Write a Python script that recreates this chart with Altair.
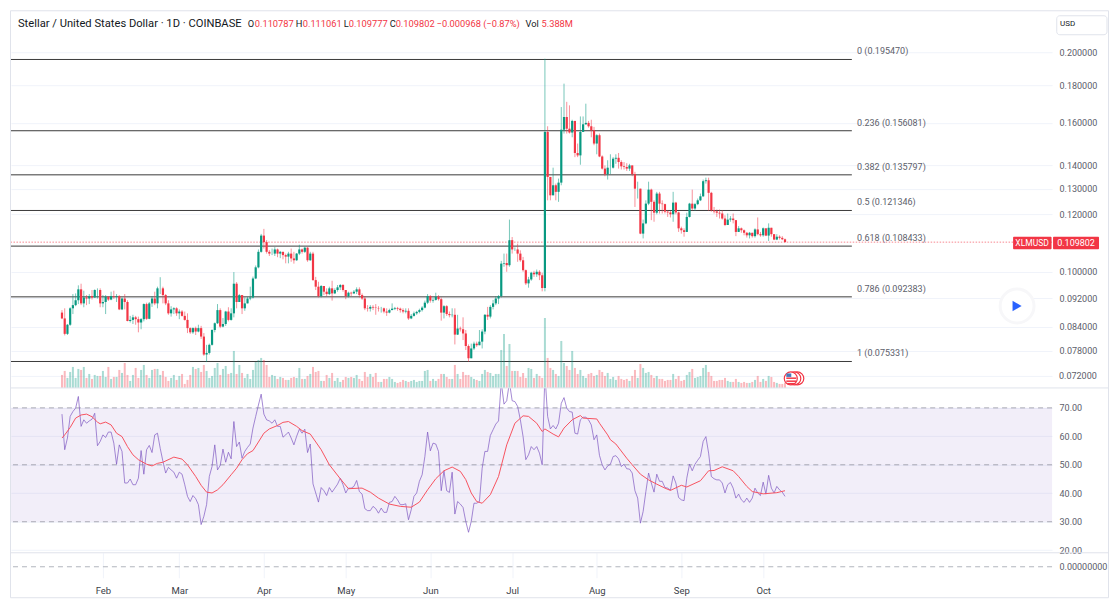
import altair as alt
import pandas as pd

FONT = "Roboto"
UP, DOWN = "#089981", "#F23645"
TXT = "#5d606b"

first_open = 0.0879
close = [
 .0863,.0822,.0846,.0891,.0900,.0914,.0946,.0905,.0922,.0919,
 .0926,.0922,.0944,.0944,.0905,.0909,.0924,.0916,.0926,.0924,
 .0926,.0888,.0919,.0909,.0856,.0859,.0866,.0861,.0852,.0861,
 .0903,.0862,.0905,.0919,.0905,.0949,.0949,.0929,.0905,.0877,
 .0888,.0891,.0877,.0882,.0870,.0859,.0837,.0826,.0837,.0828,
 .0837,.0815,.0770,.0774,.0794,.0832,.0850,.0886,.0841,.0848,
 .0882,.0859,.0877,
 .0963,.0909,.0929,.0891,.0905,.0919,.0922,.0979,.1014,.1065,
 .1121,.1098,.1065,.1059,.1059,.1073,.1059,.1065,.1054,.1049,.1059,
 .1043,.1037,.1059,.1073,.1065,.1079,.1037,.1059,.0974,.0954,
 .0926,.0956,.0939,.0932,.0949,.0934,.0944,.0952,.0959,.0944,
 .0926,.0936,.0934,.0939,.0946,.0929,.0919,.0891,.0890,.0895,
 .0893,.0892,.0891,.0891,.0882,.0879,.0886,.0890,.0892,.0890,
 .0886,.0882,.0884,.0863,.0870,.0877,.0881,.0886,.0893,.0907,
 .0926,.0913,.0915,.0924,.0917,.0879,.0897,.0875,.0872,.0873,
 .0820,.0836,.0834,.0823,.0791,.0761,.0785,.0797,.0793,.0802,
 .0828,.0873,.0868,.0895,.0905,.0919,.0926,.1026,.1028,.1021,
 .1105,.1073,.1073,.1059,.1037,.1005,.0964,.0976,.0997,.0992,
 .1000,.0989,.0950,
 .1555,.1349,.1273,.1314,.1287,.1325,.1566,.1630,.1571,.1552,.1610,
 .1455,.1444,.1555,.1593,.1600,.1583,.1563,.1499,.1539,.1439,
 .1385,.1361,.1389,.1389,.1429,.1433,.1414,.1395,.1392,.1385,
 .1399,.1361,.1300,.1300,.1128,.1165,.1240,.1296,.1247,.1205,
 .1280,.1240,.1238,.1209,.1206,.1199,.1244,.1206,.1147,.1140,
 .1134,.1189,.1240,.1221,.1238,.1253,.1269,.1331,.1335,.1283,
 .1214,.1210,.1205,.1202,.1183,.1159,.1179,.1183,.1177,.1134,
 .1147,.1140,.1131,.1122,.1131,.1119,.1143,.1126,.1122,.1147,
 .1121,.1149,.1126,.1107,.1117,.1113,.1108,.109802]
high = [
 .0886,.0891,.0848,.0894,.0932,.0934,.0958,.0963,.0942,.0929,
 .0932,.0944,.0946,.0949,.0949,.0929,.0929,.0926,.0939,.0942,
 .0932,.0929,.0922,.0932,.0914,.0870,.0873,.0870,.0868,.0864,
 .0905,.0907,.0909,.0926,.0939,.0954,.0983,.0954,.0932,.0914,
 .0897,.0894,.0894,.0888,.0886,.0882,.0877,.0839,.0839,.0841,
 .0846,.0843,.0824,.0794,.0797,.0834,.0852,.0903,.0891,.0864,
 .0884,.0894,.0891,
 .0999,.0968,.0932,.0929,.0922,.0924,.0954,.0985,.1020,.1073,
 .1127,.1145,.1105,.1071,.1076,.1081,.1076,.1068,.1065,.1059,.1065,
 .1076,.1065,.1061,.1089,.1076,.1082,.1081,.1065,.1065,.0984,
 .0969,.0959,.0956,.0949,.0954,.0972,.0949,.0959,.0962,.0962,
 .0944,.0939,.0939,.0944,.0952,.0952,.0934,.0926,.0900,.0900,
 .0900,.0903,.0897,.0895,.0893,.0891,.0890,.0905,.0895,.0895,
 .0893,.0891,.0891,.0891,.0875,.0882,.0884,.0890,.0897,.0913,
 .0932,.0929,.0922,.0936,.0929,.0922,.0900,.0900,.0882,.0891,
 .0891,.0873,.0841,.0866,.0832,.0795,.0797,.0802,.0802,.0832,
 .0834,.0875,.0895,.0900,.0915,.0926,.0929,.1035,.1059,.1059,
 .1179,.1116,.1080,.1093,.1070,.1048,.1007,.0984,.1000,.1003,
 .1007,.1005,.0997,
 .1959,.1583,.1349,.1389,.1321,.1342,.1682,.1811,.1710,.1691,.1616,
 .1563,.1499,.1633,.1633,.1700,.1610,.1616,.1580,.1544,.1547,
 .1444,.1399,.1422,.1449,.1436,.1449,.1455,.1422,.1414,.1409,
 .1406,.1385,.1371,.1329,.1300,.1179,.1253,.1329,.1300,.1253,
 .1287,.1287,.1253,.1240,.1214,.1212,.1287,.1247,.1209,.1153,
 .1147,.1205,.1243,.1296,.1243,.1260,.1280,.1338,.1346,.1346,
 .1287,.1227,.1217,.1217,.1214,.1195,.1202,.1192,.1202,.1171,
 .1155,.1150,.1143,.1134,.1134,.1131,.1147,.1187,.1134,.1150,
 .1147,.1165,.1149,.1126,.1126,.1122,.1119,.111061]
low = [
 .0861,.0818,.0819,.0843,.0875,.0897,.0903,.0900,.0894,.0900,
 .0903,.0916,.0922,.0919,.0894,.0894,.0875,.0912,.0914,.0918,
 .0909,.0886,.0886,.0888,.0855,.0852,.0848,.0846,.0826,.0834,
 .0855,.0859,.0861,.0895,.0900,.0891,.0932,.0905,.0900,.0873,
 .0868,.0875,.0870,.0861,.0868,.0857,.0824,.0822,.0822,.0819,
 .0826,.0809,.0767,.0752,.0770,.0792,.0826,.0848,.0837,.0839,
 .0843,.0855,.0857,
 .0866,.0891,.0909,.0875,.0884,.0905,.0914,.0919,.0977,.1011,
 .1062,.1076,.1059,.1051,.1054,.1051,.1047,.1044,.1040,.1027,.1027,
 .1032,.1026,.1035,.1054,.1059,.1061,.1032,.1035,.0972,.0944,
 .0922,.0922,.0929,.0926,.0929,.0913,.0932,.0939,.0944,.0939,
 .0917,.0922,.0926,.0932,.0932,.0922,.0915,.0886,.0882,.0882,
 .0886,.0873,.0882,.0879,.0877,.0870,.0877,.0886,.0886,.0884,
 .0879,.0877,.0877,.0859,.0861,.0868,.0873,.0877,.0882,.0891,
 .0903,.0907,.0907,.0913,.0913,.0857,.0863,.0870,.0866,.0866,
 .0795,.0819,.0828,.0806,.0781,.0753,.0761,.0781,.0789,.0793,
 .0785,.0821,.0859,.0863,.0888,.0900,.0903,.0922,.1016,.1000,
 .1016,.1059,.1068,.1032,.1032,.1000,.0959,.0951,.0972,.0984,
 .0984,.0974,.0940,
 .0940,.1253,.1253,.1280,.1253,.1247,.1314,.1547,.1547,.1547,.1529,
 .1436,.1436,.1402,.1555,.1590,.1576,.1529,.1491,.1449,.1436,
 .1381,.1352,.1338,.1361,.1385,.1406,.1385,.1381,.1381,.1375,
 .1375,.1352,.1227,.1260,.1126,.1111,.1162,.1234,.1177,.1171,
 .1199,.1202,.1202,.1202,.1189,.1187,.1171,.1199,.1134,.1128,
 .1117,.1134,.1187,.1214,.1212,.1234,.1250,.1266,.1321,.1212,
 .1209,.1202,.1189,.1183,.1179,.1155,.1159,.1171,.1165,.1119,
 .1134,.1131,.1122,.1114,.1111,.1114,.1114,.1122,.1117,.1117,
 .1119,.1102,.1117,.1105,.1105,.1107,.1105,.109777]
volume = [
 13,17,10,16,21,10,19,18,21,10,14,9,13,12,12,17,11,21,9,11,11,18,15,25,13,7,13,20,10,18,
 23,13,10,18,19,19,13,17,11,7,10,13,8,12,14,4,8,13,21,19,
 20,16,23,17,10,12,20,25,13,19,22,14,15,37,14,23,15,10,14,9,18,26,28,30,28,23,11,13,12,9,11,10,8,8,
 10,11,10,20,9,9,12,14,21,16,17,7,7,13,10,15,7,10,6,8,11,10,11,10,13,9,7,16,11,14,11,15,6,6,9,9,11,9,6,5,6,8,7,6,7,8,6,7,7,
 17,18,7,9,7,9,14,14,11,9,9,23,14,9,16,13,13,11,9,8,7,14,18,16,15,12,14,14,38,54,22,44,17,17,17,11,15,10,20,19,10,14,12,10,
 70,30,20,18,14,12,47,25,22,18,37,20,14,18,12,10,14,15,12,13,18,16,12,15,9,11,8,12,9,8,9,7,12,18,10,24,20,15,16,13,10,12,9,9,7,8,8,14,9,12,7,8,
 13,16,19,10,11,12,20,23,16,12,7,7,8,8,10,7,6,6,9,6,5,6,5,5,6,8,12,6,9,7,12,11,6,5,4,4,5.388]
rsi = [
 67.8,55.3,59.4,67,68.7,69.9,74,63.5,65.8,64.6,65.4,66,68.1,56.7,58.2,60.5,59.6,61.5,61.5,57.6,
 50.2,57,54.7,43.6,43.6,45,43,43,45.3,55,46.7,55.3,56.8,54.3,60.5,61.1,55.8,51.2,47.1,49.1,
 48.2,47.4,45.3,47.4,46.7,43,38.9,37.1,39.2,38.1,36,29,31.9,36,45.9,49.4,57,48.2,49.8,55.5,
 50.9,54.4,52.1,65.2,56.4,58,52.3,54.7,56.1,57.3,62.9,67,71,74.8,67.8,65.8,65.4,64.6,65.8,63.5,
 63.5,59.7,60.5,61.5,59.4,57,60,
 62.5,61.1,62.5,54.3,57.3,43.3,40.1,36.9,42,40.9,39.2,42,40.4,41.8,43.2,45.3,43,40.1,41.8,41.8,
 42.4,44.5,40.6,39.7,34.6,33.9,33.9,35.4,34.6,33,34.8,33.3,33.3,36.8,37.1,38.9,37.7,36,36,36.3,
 30.7,34.2,38.9,40.1,44.2,46.5,52.9,61.5,54.9,57.6,57.3,54.7,40.9,47.9,40.9,40.3,47.4,32.7,37.1,36.2,
 35,30.1,26.3,30.1,36.5,36.5,37.1,48.8,54.7,54.7,60.3,62.3,64.3,65.4,79,71.3,72.5,79,72.5,72.2,
 70.5,65.8,59.9,51.8,53.5,56.4,55.3,56.4,54.1,50,82,67,62.6,63.8,62.6,64.6,
 71.6,73.6,69.9,68.7,68.5,61.1,60.8,65.8,66.7,66.7,65.8,64,58.8,60.5,53.3,50,48.2,49.6,50.2,52.9,
 53.2,52.1,49.4,50.2,48.6,48.5,47.1,40.9,38.3,29.5,33.6,40.6,47.1,43.6,40.4,46.7,44.2,44.2,42,41.8,
 41.1,46.1,43.6,38.5,37.7,37.4,45.3,50.2,47.9,50.2,51.6,52.9,58.2,59.9,54.1,45.9,45.1,44.7,44.7,43.6,
 40.1,43,43.8,41.8,38.3,39.7,37.7,36.8,38.3,36.8,38.3,41.8,40.1,39.2,43.9,39.7,46.3,41.8,40.1,42.4,
 41.2,40.4,38.9]
ma_bar = [0,1,3,5,7,9,11,13,14,16,18,20,22,24,26,28,31,33,35,37,41,44,46,49,51,53,55,57,59,62,64,66,68,70,72,74,76,79,81,83,86,88,91,
 95,98,102,105,109,110,113,116,120,124,128,131,134,137,140,143,146,148,150,152,154,157,160,163,166,169,171,174,176,177,180,182,
 184,187,190,191,196,197,200,201,203,207,209,212,215,218,221,223,227,229,234,237,239,242,246,248,251,253,257,262,265]
ma_val = [59.4,60.5,63.1,66.4,67.5,67.8,66.9,65,64.4,65,64,61.1,59.9,56.4,53.5,51.8,50.2,49.6,50.5,50.9,52.7,52,50,45.9,42.8,40.4,40.1,41.2,43,46.5,48.8,51.8,53.9,55,58,61.1,62.6,63.8,64.9,65.2,63.5,62,60.8,
 55.3,50,45.1,41.6,41.8,41.8,40.4,38.3,36.2,35.4,35.1,36.9,41.2,45.1,47.9,49.2,47.7,44.8,40.1,37.1,36.5,39.5,45.9,57,64.6,67.2,67,64.6,61.7,62.6,60.8,59.8,
 62.9,65.8,67.3,66.4,66.1,64.6,60.5,58.8,57.3,52.3,50,46.7,44.7,43.2,41.8,41,42.8,42.2,44.4,47.9,48,49.3,47.9,45.9,42.4,40.6,39.8,40.2,40.9]
fib_level = ["0", "0.236", "0.382", "0.5", "0.618", "0.786", "1"]
fib_price = [0.195470, 0.156081, 0.135797, 0.121346, 0.108433, 0.092383, 0.075331]
price_ticks = [0.072, 0.078, 0.084, 0.092, 0.100, 0.120, 0.130, 0.140, 0.160, 0.180, 0.200]
low_tick = [0.072]
rsi_ticks = [20, 30, 40, 50, 60, 70]
month_ticks = ["2023-%02d-01T00:00:00" % m for m in range(2, 11)]
last_close = 0.109802
X_START, X_END = "2022-12-29T07:30:00", "2024-01-14T21:00:00"
FIB_END, FIB_LABEL = "2023-11-02T12:00:00", "2023-11-04T10:00:00"
PW = 1042
FR = 1098.5
FB = 587

dates = pd.date_range("2023-01-17", periods=len(close)).strftime("%Y-%m-%dT00:00:00").tolist()
opens = [first_open] + close[:-1]
df = pd.DataFrame({"date": dates, "open": opens, "close": close, "volume": volume, "rsi": rsi})
df["high"] = [max(a, b, c) for a, b, c in zip(high, opens, close)]
df["low"] = [min(a, b, c) for a, b, c in zip(low, opens, close)]
df["top"] = df[["open", "close"]].max(axis=1)
df["bot"] = df[["open", "close"]].min(axis=1)
df["dir"] = ["up" if c >= o else "down" for o, c in zip(opens, close)]
ma_df = pd.DataFrame({"date": [dates[i] for i in ma_bar], "ma": ma_val})
fib_df = pd.DataFrame({"level": fib_level, "price": fib_price})
fib_df["label"] = [f"{l} ({p:.6f})" for l, p in zip(fib_level, fib_price)]
fib_df["x0"], fib_df["x1"], fib_df["xl"] = X_START, FIB_END, FIB_LABEL
months = pd.DataFrame({"date": month_ticks})

xscale = alt.Scale(domain=[X_START, X_END], padding=0)
yprice = alt.Scale(type="log", domain=[0.0693, 0.2276], nice=False)
yvol = alt.Scale(domain=[0, 377], nice=False)
yrsi = alt.Scale(domain=[19.1, 77], nice=False)
yzero = alt.Scale(domain=[-0.88, 1.12], nice=False)
dircol = alt.Color("dir:N", scale=alt.Scale(domain=["up", "down"], range=[UP, DOWN]), legend=None)
one = alt.Data(values=[{"a": 1}])


def xax(field="date", labels=False):
    return alt.X(f"{field}:T", scale=xscale, title=None,
                 axis=alt.Axis(values=month_ticks, labels=labels, grid=True, format="%b", labelPadding=8,
                               labelFontSize=9.5, labelColor="#3b3e48"))


def xn(field="date"):
    return alt.X(f"{field}:T", scale=xscale, title=None, axis=None)


def note(text, x, y, color=TXT, size=9, align="left", font=FONT):
    return alt.Chart(one).mark_text(text=text, color=color, fontSize=size, align=align, baseline="middle",
                                    font=font).encode(x=alt.value(x), y=alt.value(y))


def box(x, x2, y, y2, **kw):
    return alt.Chart(one).mark_rect(**kw).encode(x=alt.value(x), x2=alt.value(x2), y=alt.value(y), y2=alt.value(y2))


def dot(x, y, **kw):
    return alt.Chart(one).mark_point(filled=False, **kw).encode(x=alt.value(x), y=alt.value(y))


base = alt.Chart(df)
grid_layer = alt.Chart(months).mark_rule(opacity=0).encode(
    x=xax(),
    y=alt.value(0))
price_axis = alt.Chart(pd.DataFrame({"price": price_ticks})).mark_rule(opacity=0).encode(
    y=alt.Y("price:Q", scale=yprice, title=None,
            axis=alt.Axis(values=price_ticks, grid=True, orient="right", labelPadding=7,
                          labelExpr="datum.value < 0.075 ? '' : format(datum.value, '.6f')")))
low_label = alt.Chart(pd.DataFrame({"price": low_tick, "label": [f"{v:.6f}" for v in low_tick]})).mark_text(
    align="left", baseline="middle", fontSize=9, color=TXT, font=FONT).encode(
    x=alt.value(PW + 7), y=alt.Y("price:Q", scale=yprice, axis=None), text="label:N")
fib_lines = alt.Chart(fib_df).mark_rule(color="#3a3a3a", strokeWidth=1).encode(
    x=xn("x0"), x2="x1:T", y=alt.Y("price:Q", scale=yprice, axis=None))
fib_text = alt.Chart(fib_df).mark_text(align="left", baseline="middle", dy=-8, fontSize=9, color=TXT, font=FONT).encode(
    x=xn("xl"), y=alt.Y("price:Q", scale=yprice, axis=None), text="label:N")
last_line = alt.Chart(pd.DataFrame({"price": [last_close]})).mark_rule(
    color=DOWN, strokeDash=[1.5, 1.5], opacity=0.6, strokeWidth=1).encode(
    y=alt.Y("price:Q", scale=yprice, axis=None))
vol_bars = base.mark_bar(size=2, opacity=0.35).encode(
    x=xn(), y=alt.Y("volume:Q", scale=yvol, axis=None), color=dircol)
wicks = base.mark_rule(strokeWidth=1, opacity=0.55).encode(
    x=xn(), y=alt.Y("low:Q", scale=yprice, axis=None), y2="high:Q", color=dircol)
bodies = base.mark_bar(size=2.2).encode(
    x=xn(), y=alt.Y("bot:Q", scale=yprice, axis=None), y2="top:Q", color=dircol)

header = [
    note("Stellar / United States Dollar · 1D · COINBASE", 7, 13, "#131722", 11.2),
    note("O", 237, 13, "#131722", 9.3), note("0.110787", 244, 13, DOWN, 9.3),
    note("H", 285, 13, "#131722", 9.3), note("0.111061", 292, 13, DOWN, 9.3),
    note("L", 333, 13, "#131722", 9.3), note("0.109777", 338, 13, DOWN, 9.3),
    note("C", 379, 13, "#131722", 9.3), note("0.109802", 385, 13, DOWN, 9.3),
    note("−0.000968 (−0.87%)", 426, 13, DOWN, 9.3),
    note("Vol", 515, 13, "#131722", 9.3), note("5.388M", 531, 13, DOWN, 9.3),
]
badge = [
    box(1003, 1041.5, 225.7, 238.3, color=DOWN, cornerRadius=1),
    box(1043, 1089, 225.7, 238.3, color=DOWN, cornerRadius=1),
    note("XLMUSD", 1022, 232, "white", 8.5, "center"),
    note("0.109802", 1066, 232, "white", 9, "center"),
]
usd = [box(1046.7, 1097, 4.5, 23.5, fill="white", stroke="#e0e3eb", cornerRadius=3),
       note("USD", 1050, 13, "#131722", 8)]
play = [
    dot(1007, 295, size=1150, shape="circle", stroke="#f7f7f9", strokeWidth=3, fill="white", fillOpacity=1),
    alt.Chart(one).mark_point(filled=True, shape="triangle-right", size=110, color="#2962ff", opacity=1).encode(
        x=alt.value(1007), y=alt.value(295)),
]
flag = [
    dot(787, 367.5, size=170, shape="circle", stroke=DOWN, strokeWidth=1.2, fill="white", fillOpacity=1),
    dot(784, 367.5, size=170, shape="circle", stroke=DOWN, strokeWidth=1.2, fill="white", fillOpacity=1),
    dot(780.5, 367.5, size=170, shape="circle", stroke=DOWN, strokeWidth=1.2, fill="white", fillOpacity=1),
    box(776, 786, 366.5, 368, color=DOWN), box(776, 786, 369.5, 371, color=DOWN), box(777, 784, 372, 373.5, color=DOWN),
    box(776, 781, 362.5, 366, color="#4a78b8"),
]
frame = [box(-0.5, FR, -0.5, FB, fill="transparent", stroke="#e0e3eb")]

price_panel = alt.layer(
    grid_layer, price_axis, fib_lines, last_line, vol_bars, wicks, bodies, fib_text, low_label,
    *frame, *header, *badge, *usd, *play, *flag
).resolve_scale(y="independent").properties(width=PW, height=377)

band = alt.Chart(pd.DataFrame({"a": [30], "b": [70]})).mark_rect(color="#7e57c2", opacity=0.1).encode(
    y=alt.Y("a:Q", scale=yrsi, axis=None), y2="b:Q")
rsi_axis = alt.Chart(pd.DataFrame({"v": rsi_ticks})).mark_rule(opacity=0).encode(
    y=alt.Y("v:Q", scale=yrsi, title=None,
            axis=alt.Axis(values=rsi_ticks, format=".2f", grid=True, orient="right", labelPadding=7)))
hlines = alt.Chart(pd.DataFrame({"v": [30, 50, 70]})).mark_rule(color="#787b86", strokeDash=[5, 4], opacity=0.6).encode(
    y=alt.Y("v:Q", scale=yrsi, axis=None))
rsi_line = base.mark_line(color="#7e57c2", strokeWidth=1, clip=True, opacity=0.7).encode(
    x=xn(), y=alt.Y("rsi:Q", scale=yrsi, axis=None))
ma_line = alt.Chart(ma_df).mark_line(color="#F7525F", strokeWidth=1, clip=True).encode(
    x=xn(), y=alt.Y("ma:Q", scale=yrsi, axis=None))
sep_top = alt.Chart(one).mark_rule(color="#e0e3eb").encode(x=alt.value(-0.5), x2=alt.value(FR), y=alt.value(0))
rsi_panel = alt.layer(grid_layer, band, rsi_axis, hlines, rsi_line, ma_line, sep_top).resolve_scale(
    y="independent").properties(width=PW, height=165)

zero_rule = alt.Chart(pd.DataFrame({"v": [0]})).mark_rule(color="#b2b5be", strokeDash=[5, 4]).encode(
    y=alt.Y("v:Q", scale=yzero, title=None,
            axis=alt.Axis(values=[0], format=".8f", grid=False, orient="right", labelPadding=7)))
bottom_grid = alt.Chart(months).mark_rule(opacity=0).encode(x=xax(labels=True), y=alt.value(0))
zero_panel = alt.layer(bottom_grid, zero_rule, sep_top).resolve_scale(y="independent").properties(width=PW, height=25)

chart = alt.vconcat(price_panel, rsi_panel, zero_panel, spacing=0, bounds="flush").properties(
    padding={"left": 2, "top": 2, "right": 0, "bottom": 0}
).configure_view(stroke=None).configure_axis(
    domain=False, ticks=False, gridColor="#f0f3fa", gridWidth=1, labelFont=FONT, labelFontSize=9,
    labelColor=TXT, labelOverlap=False
)
chart.save("out.html", embed_options={"renderer": "svg", "actions": False})
